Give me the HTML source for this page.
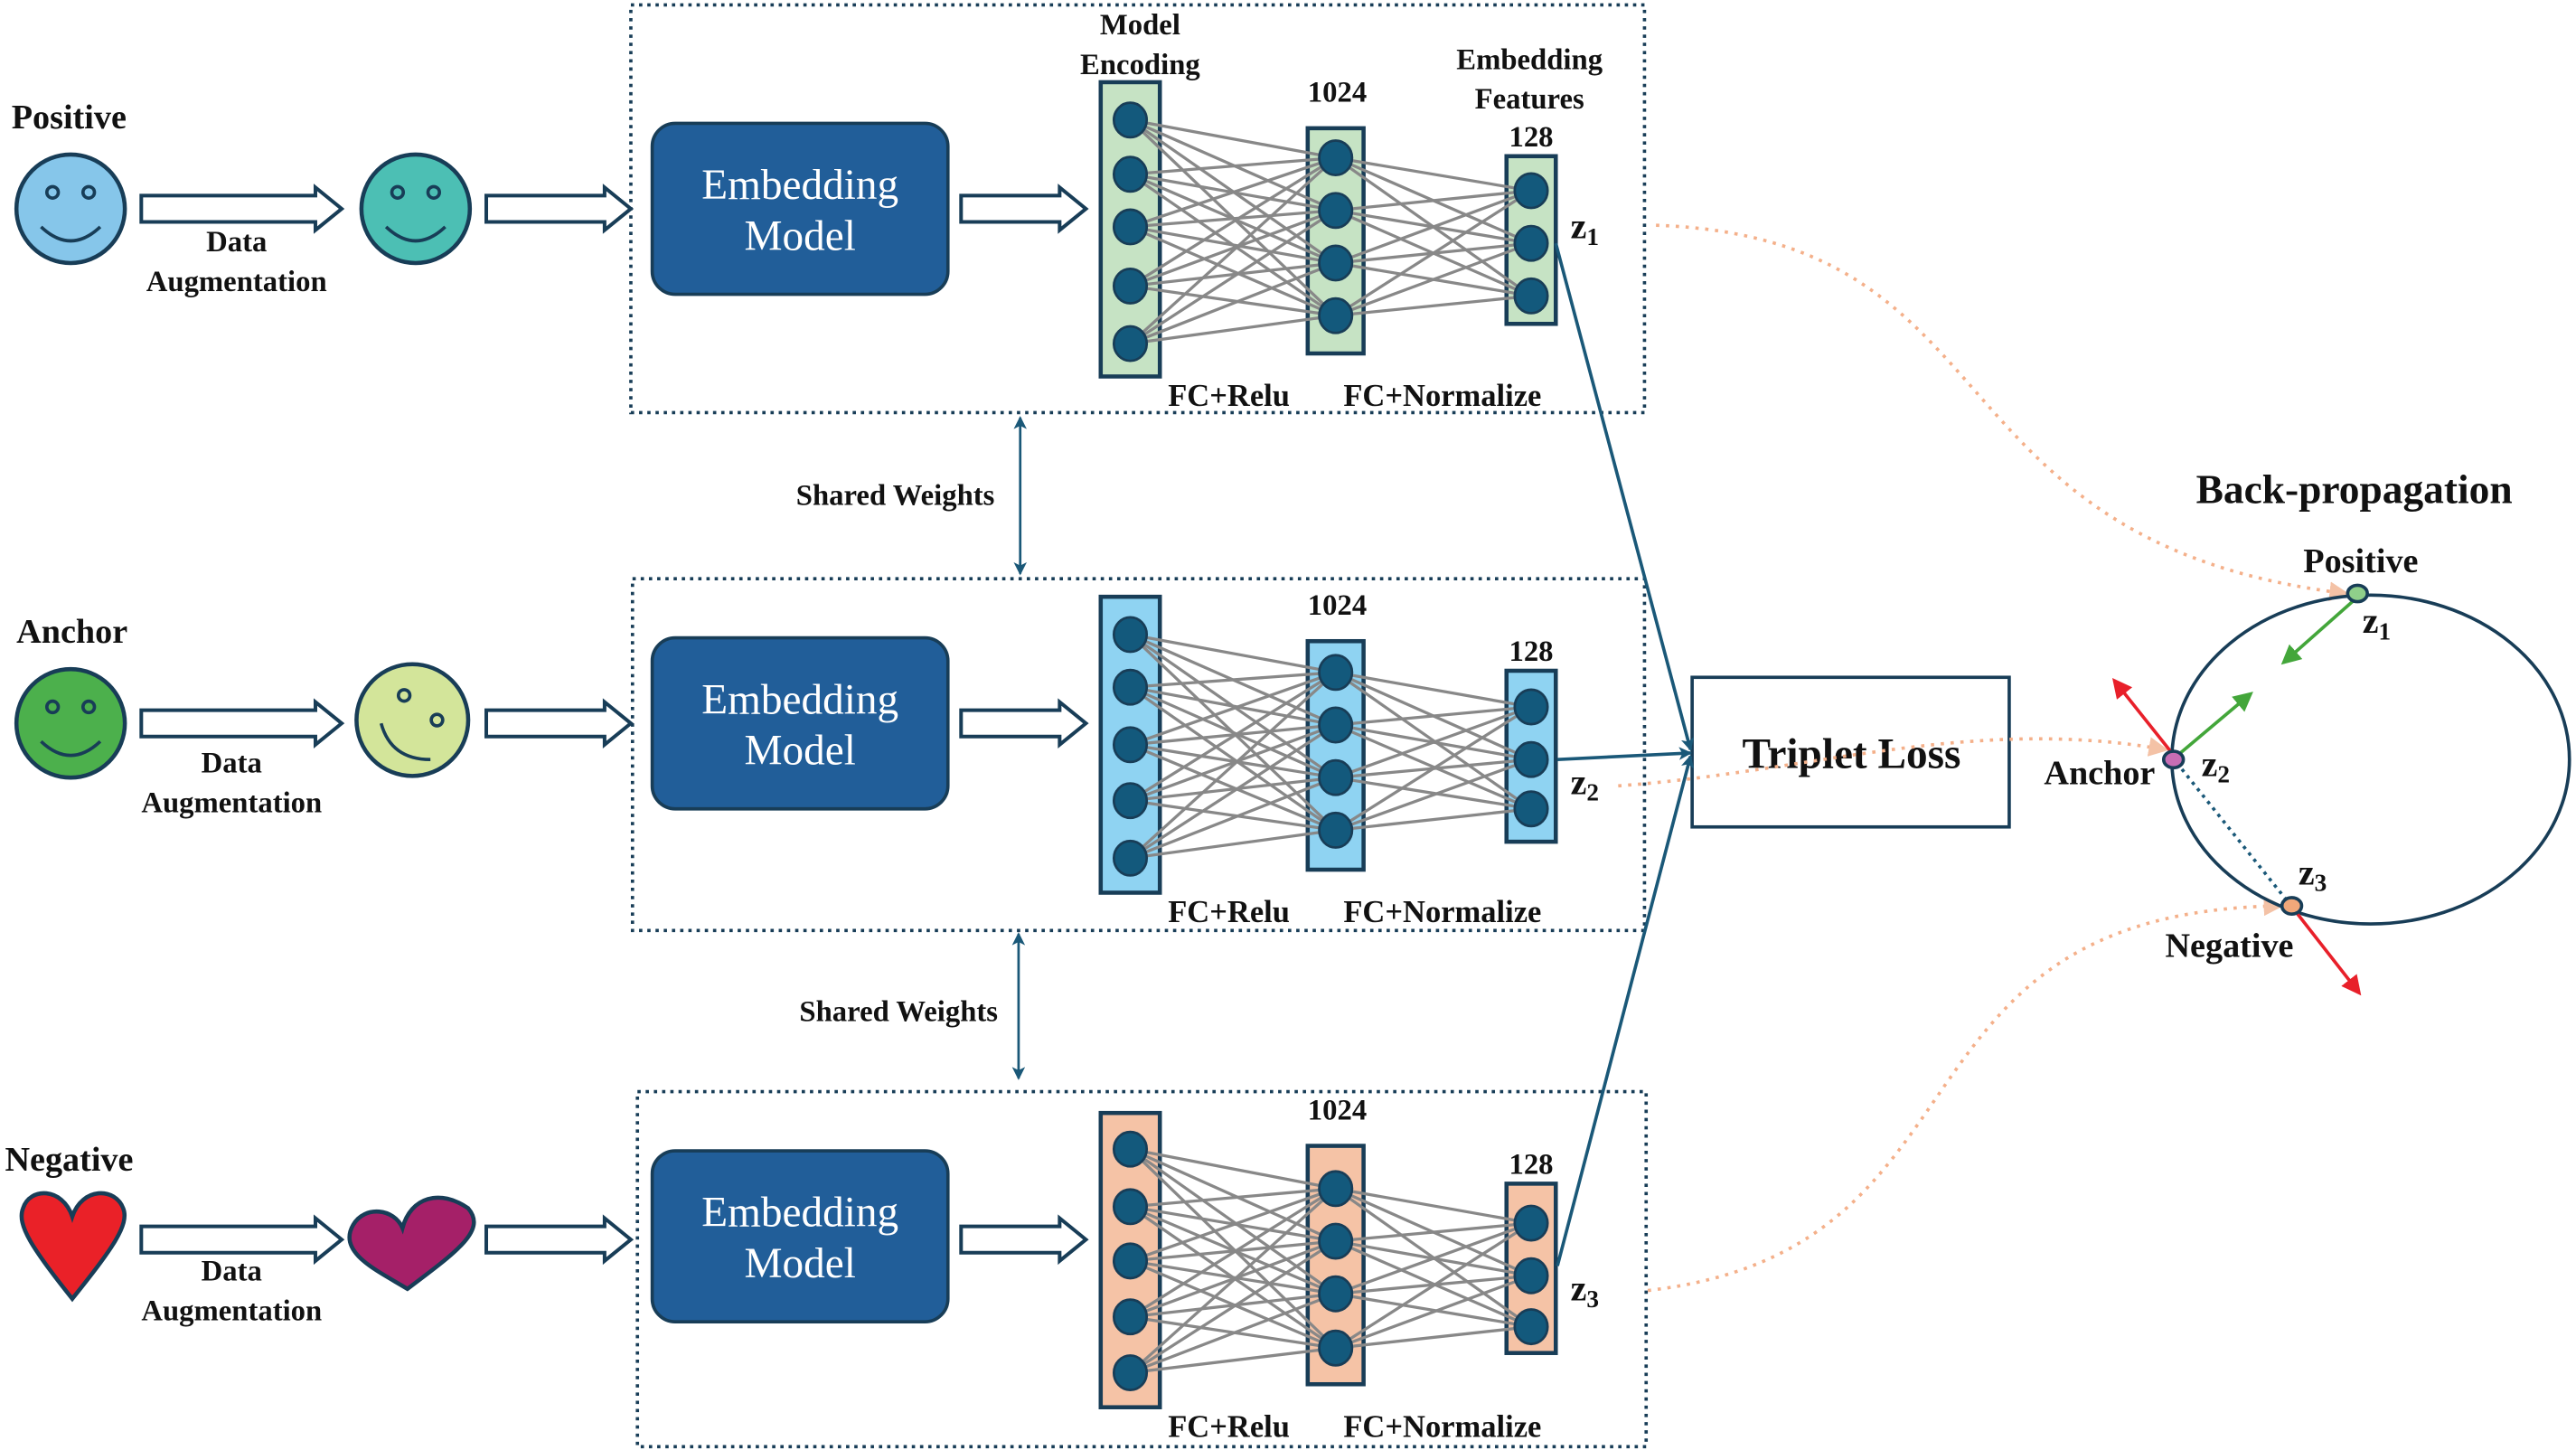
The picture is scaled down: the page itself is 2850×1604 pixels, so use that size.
<!DOCTYPE html>
<html><head><meta charset="utf-8"><style>
html,body{margin:0;padding:0;background:#fff;}
svg{display:block;}
text{font-family:"Liberation Serif",serif;font-weight:bold;fill:#111;}
</style></head><body>
<svg id="s" width="2850" height="1604" viewBox="0 0 1568 882" preserveAspectRatio="none" xmlns="http://www.w3.org/2000/svg">
<defs>
<marker id="ab" markerWidth="8" markerHeight="8" refX="7" refY="4" orient="auto-start-reverse" markerUnits="userSpaceOnUse"><path d="M0,0 L8,4 L0,8 L2,4z" fill="#1a5878"/></marker>
<marker id="ao" markerWidth="12" markerHeight="12" refX="10" refY="6" orient="auto" markerUnits="userSpaceOnUse"><path d="M0,0 L12,6 L0,12z" fill="#f4c2a6"/></marker>
<marker id="ar" markerWidth="12" markerHeight="12" refX="10" refY="6" orient="auto" markerUnits="userSpaceOnUse"><path d="M0,0 L12,6 L0,12z" fill="#e8202a"/></marker>
<marker id="ag" markerWidth="12" markerHeight="12" refX="10" refY="6" orient="auto" markerUnits="userSpaceOnUse"><path d="M0,0 L12,6 L0,12z" fill="#43a63a"/></marker>
</defs>
<g id="g"></g>
<text x="7" y="78" font-size="21">Positive</text>
<text x="10" y="391" font-size="21">Anchor</text>
<text x="3" y="712" font-size="21">Negative</text>
<text x="144" y="153" font-size="18" text-anchor="middle">Data</text>
<text x="144" y="177" font-size="18" text-anchor="middle">Augmentation</text>
<text x="141" y="470" font-size="18" text-anchor="middle">Data</text>
<text x="141" y="494" font-size="18" text-anchor="middle">Augmentation</text>
<text x="141" y="779" font-size="18" text-anchor="middle">Data</text>
<text x="141" y="803" font-size="18" text-anchor="middle">Augmentation</text>
<text x="694" y="21" font-size="18" text-anchor="middle">Model</text>
<text x="694" y="45" font-size="18" text-anchor="middle">Encoding</text>
<text x="931" y="42" font-size="18" text-anchor="middle">Embedding</text>
<text x="931" y="66" font-size="18" text-anchor="middle">Features</text>
<text x="545" y="307" font-size="18" text-anchor="middle">Shared Weights</text>
<text x="547" y="621" font-size="18" text-anchor="middle">Shared Weights</text>
<line x1="621" y1="254" x2="621" y2="349" stroke="#1a5878" stroke-width="1.5" marker-end="url(#ab)" marker-start="url(#ab)"/>
<line x1="620" y1="568" x2="620" y2="656" stroke="#1a5878" stroke-width="1.5" marker-end="url(#ab)" marker-start="url(#ab)"/>
<rect x="1030" y="412" width="193" height="91" fill="#fff" stroke="#183d57" stroke-width="2"/>
<text x="1127" y="467" font-size="26" text-anchor="middle">Triplet Loss</text>
<line x1="947" y1="148" x2="1029" y2="456" stroke="#1a5878" stroke-width="2" marker-end="url(#ab)"/>
<line x1="948" y1="462" x2="1029" y2="458" stroke="#1a5878" stroke-width="2" marker-end="url(#ab)"/>
<line x1="948" y1="770" x2="1029" y2="460" stroke="#1a5878" stroke-width="2" marker-end="url(#ab)"/>
<path d="M1008,137 C1230,145 1170,330 1428,361" fill="none" stroke="#f4b08a" stroke-width="2" stroke-dasharray="2,4" marker-end="url(#ao)"/>
<path d="M985,478 C1100,470 1200,435 1318,456" fill="none" stroke="#f4b08a" stroke-width="2" stroke-dasharray="2,4" marker-end="url(#ao)"/>
<path d="M1003,785 C1220,760 1140,555 1388,551" fill="none" stroke="#f4b08a" stroke-width="2" stroke-dasharray="2,4" marker-end="url(#ao)"/>
<text x="1433" y="306" font-size="25" text-anchor="middle">Back-propagation</text>
<ellipse cx="1443" cy="462" rx="121" ry="100" fill="none" stroke="#183d57" stroke-width="2"/>
<line x1="1433" y1="365" x2="1390" y2="403" stroke="#43a63a" stroke-width="2" marker-end="url(#ag)"/>
<line x1="1326" y1="459" x2="1370" y2="422" stroke="#43a63a" stroke-width="2" marker-end="url(#ag)"/>
<line x1="1322" y1="458" x2="1287" y2="414" stroke="#e8202a" stroke-width="2" marker-end="url(#ar)"/>
<line x1="1397" y1="554" x2="1436" y2="604" stroke="#e8202a" stroke-width="2" marker-end="url(#ar)"/>
<line x1="1325" y1="464" x2="1393" y2="549" stroke="#1a5878" stroke-width="2" stroke-dasharray="2,3"/>
<ellipse cx="1435" cy="361" rx="6" ry="5" fill="#8fcf8a" stroke="#183d57" stroke-width="2"/>
<ellipse cx="1323" cy="462" rx="6" ry="5" fill="#c76db4" stroke="#183d57" stroke-width="2"/>
<ellipse cx="1395" cy="551" rx="6" ry="5" fill="#f1a87a" stroke="#183d57" stroke-width="2"/>
<text x="1437" y="348" font-size="21" text-anchor="middle">Positive</text>
<text x="1278" y="477" font-size="21" text-anchor="middle">Anchor</text>
<text x="1357" y="582" font-size="21" text-anchor="middle">Negative</text>
<text x="1438" y="385" font-size="22">z<tspan font-size="15" dy="4">1</tspan></text>
<text x="1340" y="472" font-size="22">z<tspan font-size="15" dy="4">2</tspan></text>
<text x="1399" y="538" font-size="22">z<tspan font-size="15" dy="4">3</tspan></text>
<g stroke="#183d57" stroke-width="2.5">
<circle cx="43" cy="127" r="33" fill="#86c6ea"/>
<circle cx="253" cy="127" r="33" fill="#4cbfb4"/>
<circle cx="43" cy="440" r="33" fill="#4cb04c"/>
<circle cx="251" cy="438" r="34" fill="#d3e59a"/>
<path d="M44,790 C20,760 10,745 14,735 C18,722 38,722 44,740 C50,722 70,722 75,735 C79,745 68,760 44,790z" fill="#ea2128"/>
<path d="M248,784 C230,773 205,762 215,745 C222,733 240,735 245,747 C250,728 268,723 285,735 C296,748 280,760 248,784z" fill="#a52068"/>
</g>
<g stroke="#183d57" stroke-width="2" fill="none">
<circle cx="32" cy="117" r="3.5"/><circle cx="54" cy="117" r="3.5"/><path d="M25,138 Q43,155 61,138"/>
<circle cx="242" cy="117" r="3.5"/><circle cx="264" cy="117" r="3.5"/><path d="M235,138 Q253,155 271,138"/>
<circle cx="32" cy="430" r="3.5"/><circle cx="54" cy="430" r="3.5"/><path d="M25,451 Q43,468 61,451"/>
<circle cx="246" cy="423" r="3.5"/><circle cx="266" cy="438" r="3.5"/><path d="M232,440 Q238,462 262,462"/>
</g>
</svg>
<script>
var g=document.getElementById('g'),NS="http://www.w3.org/2000/svg";
function el(t,a,txt){var e=document.createElementNS(NS,t);for(var k in a)e.setAttribute(k,a[k]);if(txt){e.textContent=txt;}g.appendChild(e);return e;}
function arrow(x1,x2,y){var h=8,hw=13;
el('path',{d:`M${x1},${y-h} L${x2-16},${y-h} L${x2-16},${y-hw} L${x2},${y} L${x2-16},${y+hw} L${x2-16},${y+h} L${x1},${y+h}z`,fill:'#fff',stroke:'#183d57','stroke-width':2.2});}
var rows=[
{box:[384,3,1001,251],em:75,fill:'#c6e3c4',a:[50,229,[73,106,138,174,209]],b:[78,215,[96,128,160,192]],c:[95,197,[116,148,180]],z:'1',zy:145,ay:127},
{box:[385,352,1001,566],em:388,fill:'#8fd3f2',a:[363,543,[386,418,453,487,522]],b:[390,529,[409,441,473,505]],c:[408,512,[430,462,492]],z:'2',zy:483,ay:440},
{box:[388,664,1002,880],em:700,fill:'#f5c3a6',a:[677,856,[699,734,767,801,835]],b:[697,842,[723,755,787,820]],c:[720,823,[744,776,807]],z:'3',zy:791,ay:754}];
rows.forEach(function(r){
var b=r.box;
el('rect',{x:b[0],y:b[1],width:b[2]-b[0],height:b[3]-b[1],fill:'none',stroke:'#183d57','stroke-width':2,'stroke-dasharray':'2,3'});
el('rect',{x:397,y:r.em,width:180,height:104,rx:14,fill:'#215e99',stroke:'#183d57','stroke-width':2});
el('text',{x:487,y:r.em+46,'font-size':26,'text-anchor':'middle',style:'font-weight:normal;fill:#fff'},'Embedding');
el('text',{x:487,y:r.em+77,'font-size':26,'text-anchor':'middle',style:'font-weight:normal;fill:#fff'},'Model');
arrow(86,208,r.ay);arrow(296,384,r.ay);arrow(585,661,r.ay);
el('rect',{x:670,y:r.a[0],width:36,height:r.a[1]-r.a[0],fill:r.fill,stroke:'#183d57','stroke-width':2.5});
el('rect',{x:796,y:r.b[0],width:34,height:r.b[1]-r.b[0],fill:r.fill,stroke:'#183d57','stroke-width':2.5});
el('rect',{x:917,y:r.c[0],width:30,height:r.c[1]-r.c[0],fill:r.fill,stroke:'#183d57','stroke-width':2.5});
r.a[2].forEach(function(y1){r.b[2].forEach(function(y2){el('line',{x1:688,y1:y1,x2:813,y2:y2,stroke:'#888','stroke-width':1.8});});});
r.b[2].forEach(function(y1){r.c[2].forEach(function(y2){el('line',{x1:813,y1:y1,x2:932,y2:y2,stroke:'#888','stroke-width':1.8});});});
[[688,r.a[2]],[813,r.b[2]],[932,r.c[2]]].forEach(function(p){p[1].forEach(function(y){el('ellipse',{cx:p[0],cy:y,rx:10,ry:10.5,fill:'#13597c',stroke:'#183d57','stroke-width':1.5});});});
el('text',{x:814,y:r.b[0]-16,'font-size':18,'text-anchor':'middle'},'1024');
el('text',{x:932,y:r.c[0]-6,'font-size':18,'text-anchor':'middle'},'128');
el('text',{x:748,y:r.a[1]+18,'font-size':19,'text-anchor':'middle'},'FC+Relu');
el('text',{x:878,y:r.a[1]+18,'font-size':19,'text-anchor':'middle'},'FC+Normalize');
var t=el('text',{x:956,y:r.zy,'font-size':22});t.textContent='z';var ts=document.createElementNS(NS,'tspan');ts.setAttribute('font-size','15');ts.setAttribute('dy','4');ts.textContent=r.z;t.appendChild(ts);
});
</script>
</body></html>
